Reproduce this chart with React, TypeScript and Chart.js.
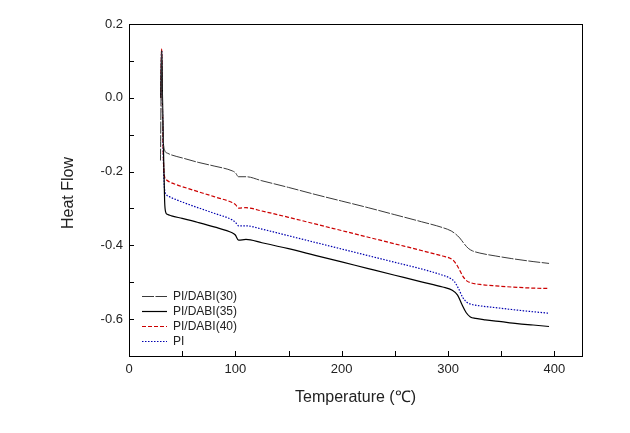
import React, { useEffect, useRef } from "react";
import { Chart, registerables } from "chart.js";

Chart.register(...registerables);

const seriesNames = ["PI/DABI(30)", "PI/DABI(35)", "PI/DABI(40)", "PI"];

const temps30 = [29.6, 30.6, 31.2, 32.0, 33.5, 36, 40, 50, 65, 80, 97, 100, 103, 110, 125, 150, 175, 200, 225, 250, 275, 295, 303, 307, 311, 315, 319, 323, 330, 345, 360, 380, 395];
const heat30 = [-0.17, 0.125, 0.0, -0.1, -0.142, -0.15, -0.155, -0.163, -0.175, -0.185, -0.198, -0.203, -0.214, -0.214, -0.225, -0.243, -0.262, -0.28, -0.298, -0.317, -0.336, -0.352, -0.361, -0.369, -0.38, -0.395, -0.408, -0.415, -0.421, -0.429, -0.436, -0.444, -0.449];

const temps35 = [29.8, 30.8, 31.5, 32.5, 33.5, 34.5, 36, 40, 50, 65, 80, 97, 100, 103, 110, 125, 150, 175, 200, 225, 250, 275, 295, 304, 309, 313, 317, 321, 326, 335, 350, 365, 380, 395];
const heat35 = [0.0, 0.128, 0.0, -0.15, -0.28, -0.31, -0.316, -0.32, -0.327, -0.338, -0.35, -0.366, -0.372, -0.386, -0.384, -0.393, -0.409, -0.427, -0.445, -0.463, -0.481, -0.499, -0.513, -0.522, -0.535, -0.56, -0.582, -0.594, -0.598, -0.602, -0.607, -0.612, -0.616, -0.62];

const temps40 = [29.8, 30.7, 31.3, 32.2, 33.2, 35, 38, 45, 60, 80, 97, 100, 103, 110, 125, 150, 175, 200, 225, 250, 275, 295, 302, 306, 310, 314, 318, 322, 330, 345, 360, 380, 395];
const heat40 = [0.0, 0.132, 0.0, -0.15, -0.21, -0.222, -0.228, -0.236, -0.25, -0.268, -0.284, -0.289, -0.299, -0.298, -0.307, -0.324, -0.342, -0.36, -0.378, -0.396, -0.414, -0.429, -0.435, -0.444, -0.462, -0.484, -0.497, -0.502, -0.506, -0.51, -0.513, -0.516, -0.517];

const tempsPI = [29.8, 30.7, 31.3, 32.2, 33.2, 35, 38, 45, 60, 80, 97, 100, 103, 110, 125, 150, 175, 200, 225, 250, 275, 295, 302, 306, 310, 314, 318, 322, 330, 345, 360, 380, 395];
const heatPI = [0.0, 0.128, 0.0, -0.15, -0.24, -0.262, -0.268, -0.277, -0.293, -0.313, -0.331, -0.337, -0.347, -0.347, -0.356, -0.374, -0.392, -0.41, -0.428, -0.446, -0.464, -0.481, -0.489, -0.498, -0.518, -0.542, -0.555, -0.56, -0.564, -0.569, -0.574, -0.58, -0.584];

const xMajorTicks = [0, 100, 200, 300, 400];
const xMinorTicks = [50, 150, 250, 350];
const yMajorTicks = [0.2, 0.0, -0.2, -0.4, -0.6];
const yMinorTicks = [0.1, -0.1, -0.3, -0.5];

const xTitle = "Temperature (\u2103)";
const yTitle = "Heat Flow";

const FONT = "'Liberation Sans', Arial, sans-serif";

function pts(xs: number[], ys: number[]) {
  return xs.map((x, i) => ({ x, y: ys[i] }));
}

const decorPlugin = {
  id: "decor",
  afterDraw(chart: any) {
    const { ctx, chartArea } = chart;
    const { left, right, top, bottom } = chartArea;
    const xs = chart.scales.x;
    const ys = chart.scales.y;
    ctx.save();
    ctx.strokeStyle = "#000";
    ctx.lineWidth = 1;
    ctx.setLineDash([]);
    ctx.strokeRect(Math.round(left) + 0.5, Math.round(top) + 0.5, Math.round(right - left), Math.round(bottom - top));
    ctx.beginPath();
    [...xMajorTicks, ...xMinorTicks].forEach((v) => {
      const px = Math.round(xs.getPixelForValue(v)) + 0.5;
      ctx.moveTo(px, bottom);
      ctx.lineTo(px, bottom - 5);
    });
    [...yMajorTicks, ...yMinorTicks].forEach((v) => {
      const py = Math.round(ys.getPixelForValue(v)) + 0.5;
      ctx.moveTo(left, py);
      ctx.lineTo(left + 5, py);
    });
    ctx.stroke();

    // legend
    ctx.font = `12px ${FONT}`;
    ctx.textBaseline = "middle";
    ctx.textAlign = "left";
    chart.data.datasets.forEach((ds: any, i: number) => {
      const y = Math.round(bottom - 60 + i * 15) + 0.5;
      ctx.strokeStyle = ds.borderColor;
      ctx.lineWidth = ds.borderWidth;
      ctx.setLineDash(ds.borderDash || []);
      ctx.beginPath();
      ctx.moveTo(left + 13, y);
      ctx.lineTo(left + 38, y);
      ctx.stroke();
      ctx.fillStyle = "#222";
      ctx.fillText(ds.label, left + 44, y);
    });

    // axis titles
    ctx.setLineDash([]);
    ctx.fillStyle = "#222";
    ctx.font = `16px ${FONT}`;
    ctx.textAlign = "center";
    ctx.textBaseline = "middle";
    ctx.fillText(xTitle, (left + right) / 2, 398);
    ctx.save();
    ctx.translate(69, (top + bottom) / 2 + 3);
    ctx.rotate(-Math.PI / 2);
    ctx.fillText(yTitle, 0, 0);
    ctx.restore();
    ctx.restore();
  },
};

export default function App() {
  const ref = useRef<HTMLCanvasElement>(null);
  useEffect(() => {
    if (!ref.current) return;
    const chart = new Chart(ref.current, {
      type: "line",
      data: {
        datasets: [
          {
            label: seriesNames[0],
            data: pts(temps30, heat30),
            borderColor: "#3a3a3a",
            borderWidth: 1,
            borderDash: [12, 1.5],
          },
          {
            label: seriesNames[1],
            data: pts(temps35, heat35),
            borderColor: "#000000",
            borderWidth: 1.2,
            borderDash: [],
          },
          {
            label: seriesNames[2],
            data: pts(temps40, heat40),
            borderColor: "#cc0000",
            borderWidth: 1.2,
            borderDash: [4, 2],
          },
          {
            label: seriesNames[3],
            data: pts(tempsPI, heatPI),
            borderColor: "#0000b0",
            borderWidth: 1.2,
            borderDash: [1.5, 1.5],
          },
        ] as any,
      },
      options: {
        animation: false,
        responsive: false,
        maintainAspectRatio: false,
        layout: { padding: { left: 0, top: 24, right: 48, bottom: 0 } },
        elements: {
          point: { radius: 0 },
          line: { cubicInterpolationMode: "monotone", fill: false },
        },
        plugins: {
          legend: { display: false },
          tooltip: { enabled: false },
        },
        scales: {
          x: {
            type: "linear",
            min: 0,
            max: 426,
            border: { display: false },
            grid: { display: false, drawTicks: false },
            afterBuildTicks: (s: any) => {
              s.ticks = xMajorTicks.map((v) => ({ value: v }));
            },
            ticks: {
              autoSkip: false,
              maxRotation: 0,
              padding: 6,
              color: "#222",
              font: { family: FONT, size: 13 },
              callback: (v: any) => String(v),
            },
            afterFit: (s: any) => {
              s.height = 77;
            },
          },
          y: {
            type: "linear",
            min: -0.7,
            max: 0.2,
            border: { display: false },
            grid: { display: false, drawTicks: false },
            afterBuildTicks: (s: any) => {
              s.ticks = yMajorTicks.map((v) => ({ value: v }));
            },
            ticks: {
              autoSkip: false,
              padding: 6,
              color: "#222",
              font: { family: FONT, size: 13 },
              callback: (v: any) => (Math.round(Number(v) * 10) / 10 + 0).toFixed(1),
            },
            afterFit: (s: any) => {
              s.width = 129;
            },
          },
        },
      },
      plugins: [decorPlugin],
    });
    return () => chart.destroy();
  }, []);
  return (
    <div style={{ position: "fixed", left: 0, top: 0, width: 630, height: 433, background: "#fff" }}>
      <canvas ref={ref} width={630} height={433} style={{ width: 630, height: 433 }} />
    </div>
  );
}
